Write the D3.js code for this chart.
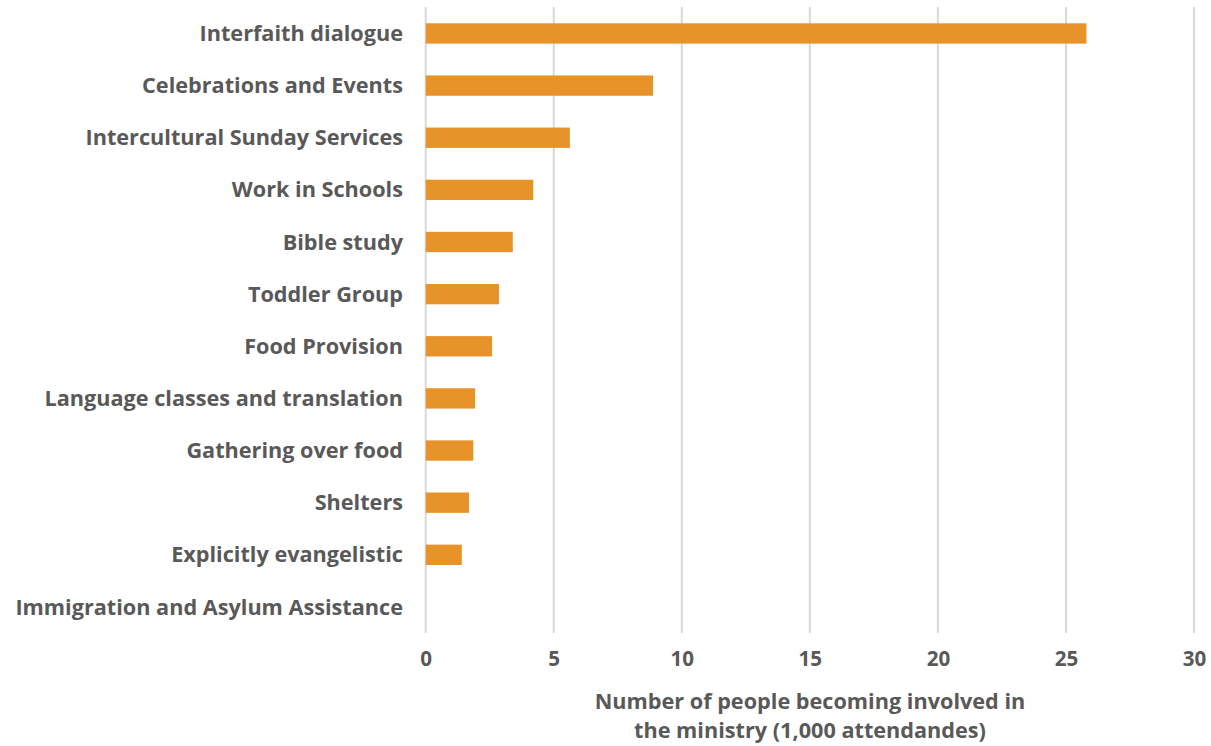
<!DOCTYPE html>
<html><head><meta charset="utf-8">
<script src="https://cdn.jsdelivr.net/npm/d3@7"></script>
<style>body{margin:0;background:#fff;} svg{display:block;}</style>
</head><body>
<svg id="chart" width="1211" height="746"></svg>
<script>
const categories = ["Interfaith dialogue","Celebrations and Events","Intercultural Sunday Services","Work in Schools","Bible study","Toddler Group","Food Provision","Language classes and translation","Gathering over food","Shelters","Explicitly evangelistic","Immigration and Asylum Assistance"];
const values = [25.8, 8.88, 5.63, 4.2, 3.4, 2.86, 2.59, 1.93, 1.86, 1.69, 1.41, 0];
const xTicks = [0,5,10,15,20,25,30];
const axisTitle = ["Number of people becoming involved in","the ministry (1,000 attendandes)"];

const svg = d3.select("#chart");
const font = "'Open Sans', Lato, sans-serif";
const textColor = "#595959";
const x = d3.scaleLinear().domain([0,30]).range([425.7,1194]);
const y = d3.scaleBand().domain(categories).range([7.4,633]).paddingInner(0.61).paddingOuter(0.305);

// gridlines
svg.append("g").selectAll("line").data(xTicks).join("line")
  .attr("x1",d=>x(d)).attr("x2",d=>x(d)).attr("y1",7).attr("y2",633)
  .attr("stroke","#d9d9d9").attr("stroke-width",2);

// bars
svg.append("g").selectAll("rect").data(values).join("rect")
  .attr("x",x(0)).attr("y",(d,i)=>y(categories[i]))
  .attr("width",d=>x(d)-x(0)).attr("height",y.bandwidth())
  .attr("fill","#E8922A");

// category labels
const labels = svg.append("g").selectAll("text").data(categories).join("text")
  .attr("x",403).attr("y",d=>y(d)+y.bandwidth()/2).attr("dy","0.35em")
  .attr("text-anchor","end").attr("font-family",font).attr("font-weight",700)
  .attr("font-size",20).attr("fill",textColor).text(d=>d);
// fit longest label to reference width (388px)
const longest = labels.filter(d=>d===categories[11]).node();
const fs = 20*388/longest.getComputedTextLength();
labels.attr("font-size",fs);

// x tick labels
const xAxis = d3.axisBottom(x).tickValues(xTicks).tickSize(0).tickPadding(0);
const gx = svg.append("g").attr("transform","translate(0,651)").call(xAxis);
gx.select(".domain").remove();
gx.selectAll("text").attr("font-family",font).attr("font-weight",700).attr("font-size",fs*0.95).attr("fill",textColor);

// axis title
const title = svg.append("text").attr("x",810).attr("y",709).attr("text-anchor","middle")
  .attr("font-family",font).attr("font-weight",700).attr("font-size",fs).attr("fill",textColor);
title.selectAll("tspan").data(axisTitle).join("tspan")
  .attr("x",810).attr("y",(d,i)=>709+i*29).text(d=>d);
</script>
</body></html>
